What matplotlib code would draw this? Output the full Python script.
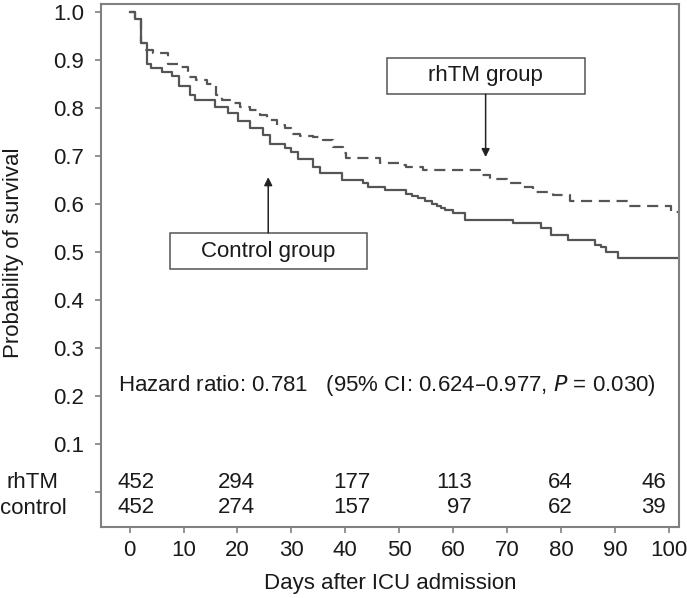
import matplotlib
matplotlib.use("Agg")
import matplotlib.pyplot as plt
from matplotlib.patches import Rectangle

plt.rcParams['font.family'] = ['Liberation Sans', 'DejaVu Sans']

# Kaplan-Meier steps (days, survival)
ctrl_t = [0, 1.0, 2.1, 3.2, 3.9, 6.0, 7.8, 9.2, 11.2, 12.1, 15.8, 18.3, 20.1, 22.3,
          24.8, 26.1, 28.8, 30.0, 31.3, 34.0, 35.3, 39.3, 43.3, 44.2, 47.3, 51.3,
          52.3, 53.5, 54.7, 56.0, 56.9, 57.8, 58.4, 60.0, 62.1, 71.1, 76.3, 78.2,
          81.3, 86.2, 87.4, 88.4, 90.5, 101.8]
ctrl_s = [1.0, 0.985, 0.935, 0.893, 0.883, 0.876, 0.867, 0.846, 0.827, 0.817, 0.803,
          0.789, 0.774, 0.758, 0.744, 0.726, 0.716, 0.709, 0.693, 0.678, 0.665, 0.650,
          0.644, 0.636, 0.629, 0.622, 0.617, 0.612, 0.606, 0.601, 0.596, 0.591, 0.587,
          0.582, 0.567, 0.560, 0.551, 0.535, 0.525, 0.515, 0.510, 0.501, 0.487, 0.487]

rhtm_t = [0, 1.0, 2.1, 2.9, 4.4, 7.2, 9.0, 10.9, 12.4, 14.3, 16.1, 17.1, 18.6, 20.5,
          22.3, 24.2, 25.4, 27.3, 28.8, 30.0, 31.6, 34.0, 35.9, 37.7, 39.6, 40.2,
          46.4, 50.1, 51.3, 54.4, 64.9, 66.8, 69.9, 72.9, 74.8, 78.5, 81.6, 92.4,
          100.4, 101.8]
rhtm_s = [1.0, 0.985, 0.935, 0.922, 0.914, 0.893, 0.886, 0.865, 0.858, 0.851, 0.827,
          0.817, 0.810, 0.803, 0.796, 0.785, 0.775, 0.765, 0.758, 0.747, 0.742, 0.740,
          0.733, 0.719, 0.706, 0.696, 0.686, 0.681, 0.678, 0.671, 0.660, 0.653, 0.644,
          0.636, 0.626, 0.619, 0.607, 0.597, 0.583, 0.583]

# numbers at risk
risk_rhtm = [452, 294, 177, 113, 64, 46]
risk_ctrl = [452, 274, 157, 97, 62, 39]
risk_x = [4.7, 23.2, 44.7, 63.4, 82.1, 99.4]

xticks = list(range(0, 101, 10))
yticks = [0.0, 0.1, 0.2, 0.3, 0.4, 0.5, 0.6, 0.7, 0.8, 0.9, 1.0]
ylabels = [''] + ['%.1f' % v for v in yticks[1:]]

spine_c = '#808080'
line_c = '#555555'
txt_c = '#1a1a1a'
fs = 16

fig = plt.figure(figsize=(6.87, 5.98), dpi=100)
ax = fig.add_axes([0.147, 0.1187, 0.841, 0.8746])

ax.step(ctrl_t, ctrl_s, where='post', color=line_c, lw=1.6)
ax.step(rhtm_t, rhtm_s, where='post', color=line_c, lw=1.6, dashes=(5, 3))

ax.set_xlim(-5.3, 101.8)
ax.set_ylim(-0.073, 1.017)
ax.set_xticks(xticks)
ax.set_yticks(yticks)
ax.set_yticklabels(ylabels)
ax.tick_params(colors=spine_c, labelcolor=txt_c, labelsize=fs, length=4, width=1.2)
ax.tick_params(axis='y', pad=8)
ax.tick_params(axis='x', pad=5)
for s in ax.spines.values():
    s.set_color(spine_c)
    s.set_linewidth(1.5)

ax.set_xlabel('Days after ICU admission', fontsize=fs, color=txt_c, labelpad=9)
ax.set_ylabel('Probability of survival', fontsize=fs, color=txt_c)
ax.yaxis.set_label_coords(-0.134, 0.524)

# group boxes with arrows
ax.add_patch(Rectangle((47.7, 0.829), 36.7, 0.075, fill=False, ec=line_c, lw=1.1))
ax.text(66.0, 0.867, 'rhTM group', ha='center', va='center', fontsize=fs, color=txt_c)
ax.annotate('', xy=(66.0, 0.698), xytext=(66.0, 0.829),
            arrowprops=dict(arrowstyle='-|>', color='#222222', lw=1.1,
                            mutation_scale=12, shrinkA=0, shrinkB=0))

ax.add_patch(Rectangle((7.5, 0.465), 36.5, 0.075, fill=False, ec=line_c, lw=1.1))
ax.text(25.7, 0.502, 'Control group', ha='center', va='center', fontsize=fs, color=txt_c)
ax.annotate('', xy=(25.7, 0.656), xytext=(25.7, 0.540),
            arrowprops=dict(arrowstyle='-|>', color='#222222', lw=1.1,
                            mutation_scale=12, shrinkA=0, shrinkB=0))

ax.text(-2.1, 0.222, 'Hazard ratio: 0.781   (95% CI: 0.624\u20130.977, $\\mathit{P}$ = 0.030)',
        ha='left', va='center', fontsize=fs, color=txt_c)

# numbers at risk table
for x, a, b in zip(risk_x, risk_rhtm, risk_ctrl):
    ax.text(x, 0.019, str(a), ha='right', va='center', fontsize=fs, color=txt_c)
    ax.text(x, -0.033, str(b), ha='right', va='center', fontsize=fs, color=txt_c)
fig.text(32 / 687, 1 - 483 / 598, 'rhTM', ha='center', va='center', fontsize=fs, color=txt_c)
fig.text(33 / 687, 1 - 508 / 598, 'control', ha='center', va='center', fontsize=fs, color=txt_c)

fig.savefig('out.png', dpi=100)
